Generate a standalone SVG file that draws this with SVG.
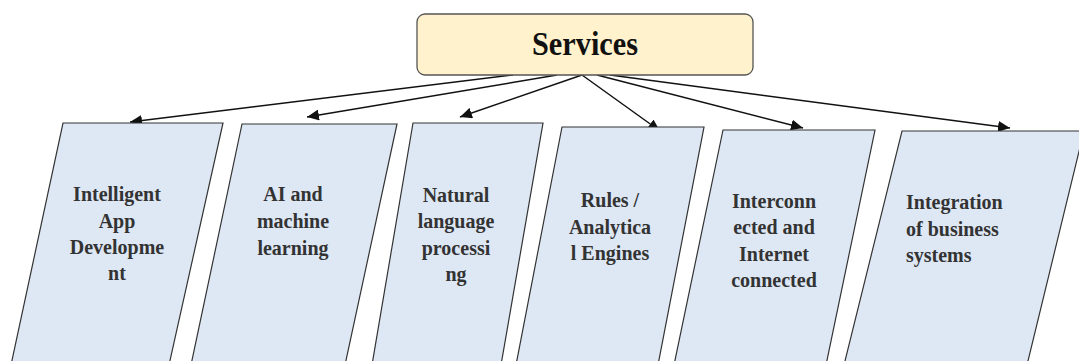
<svg xmlns="http://www.w3.org/2000/svg" width="1079" height="361" viewBox="0 0 1079 361">
  <defs>
    <marker id="arrow" markerUnits="userSpaceOnUse" markerWidth="13" markerHeight="11" refX="12" refY="5.5" orient="auto">
      <path d="M0,0 L12,5.5 L0,11 z" fill="#111"/>
    </marker>
    <style>
      .root { fill: #fff2cc; stroke: #555; stroke-width: 1.3; }
      .root-label { font-family: "Liberation Serif", "Times New Roman", serif; font-weight: bold; font-size: 33px; fill: #111; text-anchor: middle; }
      .card { fill: #dee8f5; stroke: #333; stroke-width: 1.2; }
      .label { font-family: "Liberation Serif", "Times New Roman", serif; font-weight: bold; font-size: 20px; fill: #333; text-anchor: middle; }
      .label-left { text-anchor: start; }
      .link { fill: none; stroke: #111; stroke-width: 1.5; marker-end: url(#arrow); }
    </style>
  </defs>

  <rect width="1079" height="361" fill="#ffffff"/>

  <!-- connectors from the Services box to each service card -->
  <g id="connectors">
    <line class="link" x1="513" y1="75" x2="130" y2="122"/>
    <line class="link" x1="557" y1="75" x2="307" y2="117"/>
    <line class="link" x1="582" y1="75" x2="460" y2="117"/>
    <line class="link" x1="582" y1="75" x2="660" y2="131"/>
    <line class="link" x1="597" y1="75" x2="803" y2="128"/>
    <line class="link" x1="610" y1="75" x2="1010" y2="128"/>
  </g>

  <g id="services">
    <rect class="root" x="417" y="14" width="336" height="61" rx="8" ry="8"/>
    <text class="root-label" x="585" y="55" textLength="106" lengthAdjust="spacingAndGlyphs">Services</text>
  </g>

  <g id="app-development">
    <polygon class="card" points="63,123 223,123 169,365 11,365"/>
    <text class="label" x="117" y="201">Intelligent</text>
    <text class="label" x="117" y="227.5">App</text>
    <text class="label" x="117" y="254">Developme</text>
    <text class="label" x="117" y="280">nt</text>
  </g>

  <g id="ai-ml">
    <polygon class="card" points="242,124 397,124 345,365 191,365"/>
    <text class="label" x="293" y="201">AI and</text>
    <text class="label" x="293" y="228">machine</text>
    <text class="label" x="293" y="255">learning</text>
  </g>

  <g id="nlp">
    <polygon class="card" points="413,123 543,123 501,365 372,365"/>
    <text class="label" x="456" y="201.5">Natural</text>
    <text class="label" x="456" y="228">language</text>
    <text class="label" x="456" y="254.5">processi</text>
    <text class="label" x="456" y="281">ng</text>
  </g>

  <g id="rules-engines">
    <polygon class="card" points="562,127 704,127 658,365 516,365"/>
    <text class="label" x="610" y="207">Rules /</text>
    <text class="label" x="610" y="233.5">Analytica</text>
    <text class="label" x="610" y="260">l Engines</text>
  </g>

  <g id="interconnected">
    <polygon class="card" points="723,130 875,130 826,365 674,365"/>
    <text class="label" x="774" y="208">Interconn</text>
    <text class="label" x="774" y="234">ected and</text>
    <text class="label" x="774" y="260.5">Internet</text>
    <text class="label" x="774" y="286.5">connected</text>
  </g>

  <g id="business-integration">
    <polygon class="card" points="902,131 1084,131 1027,365 844,365"/>
    <text class="label label-left" x="906" y="209">Integration</text>
    <text class="label label-left" x="906" y="235.5">of business</text>
    <text class="label label-left" x="906" y="262">systems</text>
  </g>
</svg>
